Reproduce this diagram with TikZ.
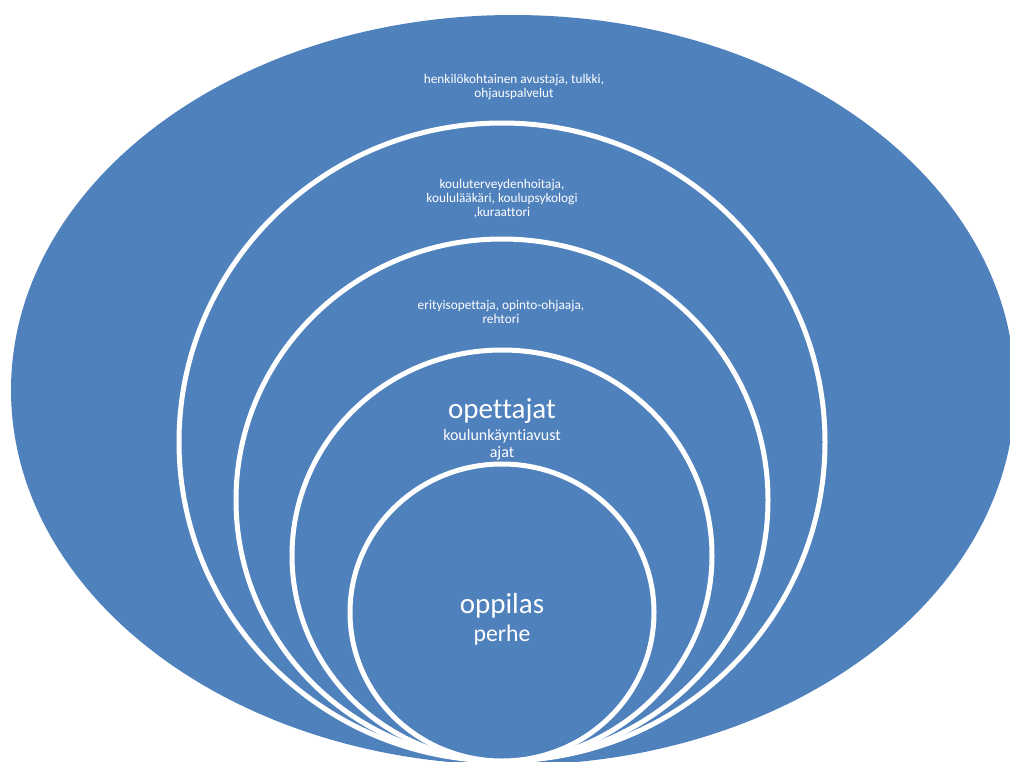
\documentclass[tikz,border=0pt]{standalone}
\usepackage{fontspec}
\setmainfont{Carlito}[Ligatures=NoCommon]
\definecolor{ringblue}{HTML}{4F81BD}
\tikzset{
  ring/.style={fill=ringblue, draw=white, line width=5pt},
  smalltext/.style={text=white, align=center, inner sep=0pt, font=\fontsize{13.3}{14.2}\selectfont},
  midtext/.style={text=white, align=center, inner sep=0pt, font=\fontsize{16}{17}\selectfont},
  bigtext/.style={text=white, inner sep=0pt, font=\fontsize{29}{30}\selectfont}
}

\begin{document}
\begin{tikzpicture}[x=1pt,y=-1pt]
\useasboundingbox (0,0) rectangle (1010,761);
\clip (0,0) rectangle (1010,761);

% outer field and the nested rings
\fill[ringblue] (513,390) ellipse [x radius=502, y radius=375];
\draw[ring] (502,442) ellipse [x radius=323, y radius=319];
\draw[ring] (502,500) ellipse [x radius=266, y radius=261];
\draw[ring] (502,555.5) ellipse [x radius=210, y radius=205.5];
\draw[ring] (502,612.5) ellipse [x radius=152, y radius=148.5];

% labels
\node[smalltext] (avustaja) at (514,87) {henkilökohtainen avustaja, tulkki,\\ohjauspalvelut};
\node[smalltext] (terveys) at (502,199) {kouluterveydenhoitaja,\\koululääkäri, koulupsykologi\\,kuraattori};
\node[smalltext] (erityis) at (501,312) {erityisopettaja, opinto-ohjaaja,\\rehtori};
\node[bigtext, anchor=base] (opettajat) at (502,418) {opettajat};
\node[midtext] (kaynti) at (502,445) {koulunkäyntiavust\\ajat};
\node[bigtext, anchor=base] (oppilas) at (502,613) {oppilas};
\node[bigtext, anchor=base, font=\fontsize{23.7}{25}\selectfont] (perhe) at (502,641) {perhe};
\end{tikzpicture}
\end{document}
